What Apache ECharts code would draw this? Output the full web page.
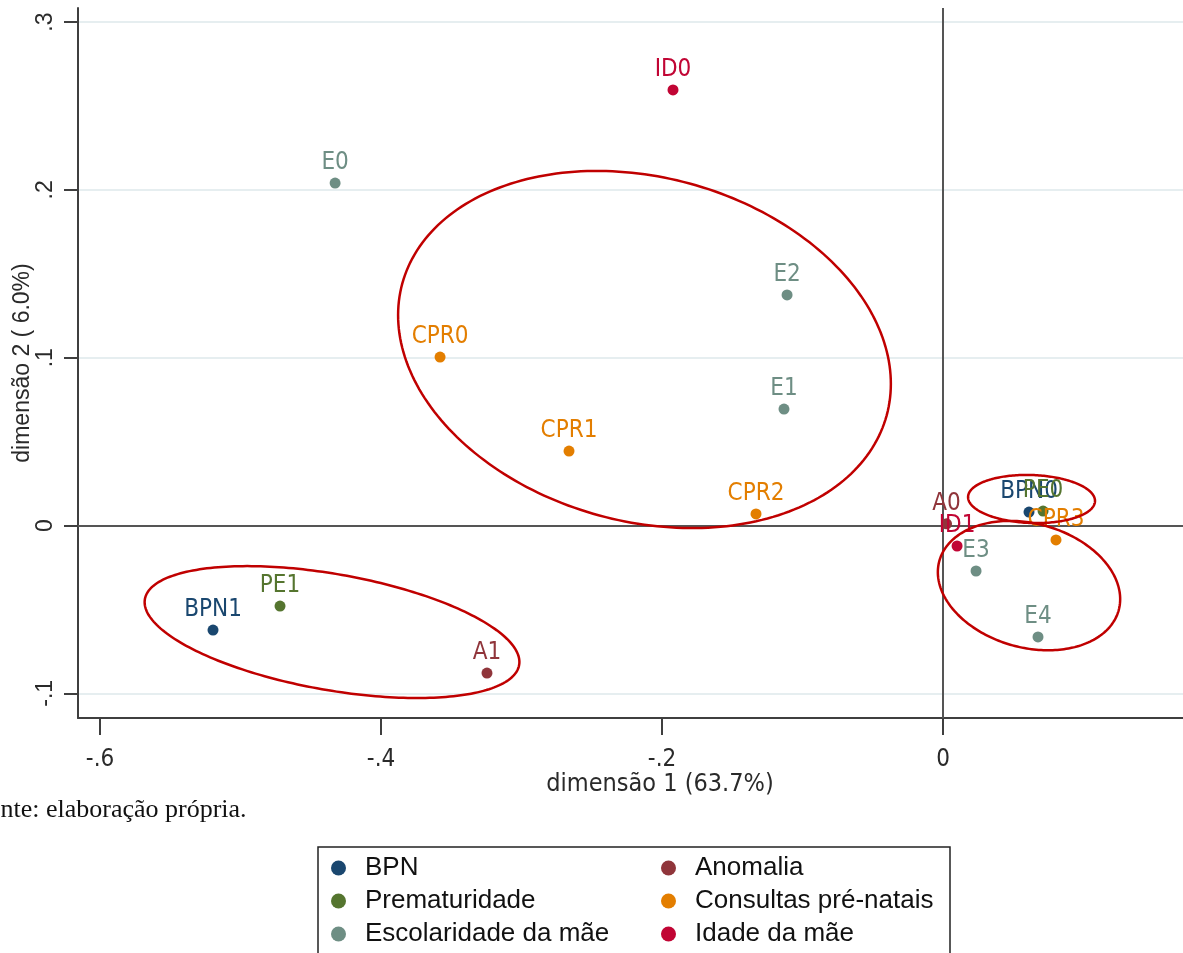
<!DOCTYPE html>
<html>
<head>
<meta charset="utf-8">
<script src="https://cdn.jsdelivr.net/npm/echarts@6/dist/echarts.min.js"></script>
<style>
  html, body { margin: 0; padding: 0; background: #ffffff; }
  #chart { width: 1183px; height: 953px; }
</style>
</head>
<body>
<div id="chart"></div>
<script>
// Category coordinates on the first two dimensions: [label, dimensão 1, dimensão 2]
const bpn = [['BPN0', 0.0612, 0.0080], ['BPN1', -0.5196, -0.0623]];
const prematuridade = [['PE0', 0.0712, 0.0086], ['PE1', -0.4719, -0.0480]];
const escolaridade = [
  ['E0', -0.4327, 0.2041], ['E1', -0.1132, 0.0694], ['E2', -0.1110, 0.1374],
  ['E3', 0.0235, -0.0271], ['E4', 0.0676, -0.0664]
];
const anomalia = [['A0', 0.0025, 0.0010], ['A1', -0.3246, -0.0879]];
const consultas = [
  ['CPR0', -0.3580, 0.1004], ['CPR1', -0.2662, 0.0444],
  ['CPR2', -0.1331, 0.0069], ['CPR3', 0.0804, -0.0086]
];
const idade = [['ID0', -0.1922, 0.2596], ['ID1', 0.0100, -0.0122]];

// Axis ticks and their labels
const xTicks = [-0.6, -0.4, -0.2, 0];
const xTickLabels = ['-.6', '-.4', '-.2', '0'];
const yTicks = [-0.1, 0, 0.1, 0.2, 0.3];
const yTickLabels = ['-.1', '0', '.1', '.2', '.3'];

// Cluster rings: centre in data units, semi-axes in px, tilt in degrees (clockwise)
const rings = [
  { center: [-0.2125, 0.1049], rx: 251, ry: 172, tilt: 15.2 },
  { center: [-0.4349, -0.0635], rx: 190, ry: 58, tilt: 10 },
  { center: [0.0630, 0.0158], rx: 63.5, ry: 24, tilt: 2 },
  { center: [0.0612, -0.0358], rx: 93, ry: 62, tilt: 15.4 }
];

const groups = [
  { name: 'BPN', data: bpn, color: '#1a476f' },
  { name: 'Prematuridade', data: prematuridade, color: '#55752f' },
  { name: 'Escolaridade da mãe', data: escolaridade, color: '#6e8e84' },
  { name: 'Anomalia', data: anomalia, color: '#90353b' },
  { name: 'Consultas pré-natais', data: consultas, color: '#e37e00' },
  { name: 'Idade da mãe', data: idade, color: '#c10534' }
];

const NARROW = '"Liberation Sans Narrow", "Arial Narrow", "DejaVu Sans Condensed", sans-serif';
const SANS = '"Liberation Sans", Arial, sans-serif';

function tickText(ticks, labels) {
  return function (v) {
    for (let i = 0; i < ticks.length; i++) {
      if (Math.abs(v - ticks[i]) < 1e-9) return labels[i];
    }
    return '';
  };
}

const pointSeries = groups.map(function (g, i) {
  const s = {
    name: g.name,
    type: 'scatter',
    symbol: 'circle',
    symbolSize: 11,
    itemStyle: { color: g.color, opacity: 1 },
    label: {
      show: true,
      position: 'top',
      distance: 3,
      formatter: function (p) { return p.data[0]; },
      color: g.color,
      fontFamily: NARROW,
      fontSize: 24
    },
    emphasis: { disabled: true },
    encode: { x: 1, y: 2 },
    data: g.data,
    z: 3
  };
  if (i === 0) {
    s.markLine = {
      silent: true,
      symbol: 'none',
      label: { show: false },
      lineStyle: { color: '#555555', width: 2, type: 'solid' },
      emphasis: { disabled: true },
      data: [{ xAxis: 0 }, { yAxis: 0 }],
      z: 1
    };
  }
  return s;
});

const ringSeries = {
  type: 'custom',
  name: 'rings',
  coordinateSystem: 'cartesian2d',
  silent: true,
  z: 5,
  data: rings.map(function (r) { return r.center; }),
  renderItem: function (params, api) {
    const ring = rings[params.dataIndex];
    const c = api.coord([api.value(0), api.value(1)]);
    const t = ring.tilt * Math.PI / 180;
    const pts = [];
    for (let k = 0; k <= 240; k++) {
      const a = k / 240 * 2 * Math.PI;
      const ex = ring.rx * Math.cos(a);
      const ey = ring.ry * Math.sin(a);
      pts.push([c[0] + ex * Math.cos(t) - ey * Math.sin(t),
                c[1] + ex * Math.sin(t) + ey * Math.cos(t)]);
    }
    return {
      type: 'polygon',
      shape: { points: pts },
      style: { fill: 'none', stroke: '#c00000', lineWidth: 2.5 }
    };
  }
};

const legendText = { fontFamily: SANS, fontSize: 26, color: '#111111', padding: [0, 0, 0, 14] };

function legendColumn(names, left) {
  return {
    data: names,
    orient: 'vertical',
    left: left,
    top: 855,
    height: 200,
    padding: 0,
    icon: 'circle',
    itemWidth: 15,
    itemHeight: 15,
    itemGap: 7,
    selectedMode: false,
    textStyle: legendText
  };
}

const option = {
  animation: false,
  backgroundColor: '#ffffff',
  // the plot area runs past the right edge of the page
  grid: { left: 78, top: 8, width: 1164, height: 710, containLabel: false, outerBoundsMode: 'none' },
  xAxis: {
    type: 'value',
    min: -0.6157,
    max: 0.2128,
    axisLine: { show: true, onZero: false, lineStyle: { color: '#3f3f3f', width: 2 } },
    axisTick: { show: true, customValues: xTicks, length: 17, lineStyle: { color: '#3f3f3f', width: 2 } },
    axisLabel: {
      customValues: xTicks,
      formatter: tickText(xTicks, xTickLabels),
      margin: 30,
      color: '#2a2a2a',
      fontFamily: NARROW,
      fontSize: 24
    },
    splitLine: { show: false },
    name: 'dimensão 1 (63.7%)',
    nameLocation: 'middle',
    nameGap: 54,
    nameMoveOverlap: false,
    nameTextStyle: { fontFamily: NARROW, fontSize: 25, color: '#2a2a2a' }
  },
  yAxis: {
    type: 'value',
    min: -0.1147,
    max: 0.3084,
    axisLine: { show: true, onZero: false, lineStyle: { color: '#3f3f3f', width: 2 } },
    axisTick: { show: true, customValues: yTicks, length: 14, lineStyle: { color: '#3f3f3f', width: 2 } },
    axisLabel: {
      customValues: yTicks,
      formatter: tickText(yTicks, yTickLabels),
      rotate: 90,
      margin: 21,
      color: '#2a2a2a',
      fontFamily: SANS,
      fontSize: 23
    },
    splitLine: { show: true, lineStyle: { color: '#e6eef0', width: 2 } },
    name: 'dimensão 2 ( 6.0%)',
    nameLocation: 'middle',
    nameRotate: 90,
    nameGap: 44,
    nameMoveOverlap: false,
    nameTextStyle: { fontFamily: SANS, fontSize: 23, color: '#2a2a2a' }
  },
  legend: [
    legendColumn(['BPN', 'Prematuridade', 'Escolaridade da mãe'], 331),
    legendColumn(['Anomalia', 'Consultas pré-natais', 'Idade da mãe'], 661)
  ],
  graphic: [
    {
      type: 'rect',
      shape: { x: 318, y: 847, width: 632, height: 130 },
      style: { fill: 'none', stroke: '#222222', lineWidth: 1.5 },
      silent: true
    },
    {
      type: 'text',
      left: -27,
      top: 797,
      style: {
        text: 'Fonte: elaboração própria.',
        fill: '#111111',
        font: '26px "Liberation Serif", "Times New Roman", serif'
      },
      silent: true
    }
  ],
  series: pointSeries.concat([ringSeries])
};

const chart = echarts.init(document.getElementById('chart'), null, { renderer: 'canvas' });
chart.setOption(option);
</script>
</body>
</html>
